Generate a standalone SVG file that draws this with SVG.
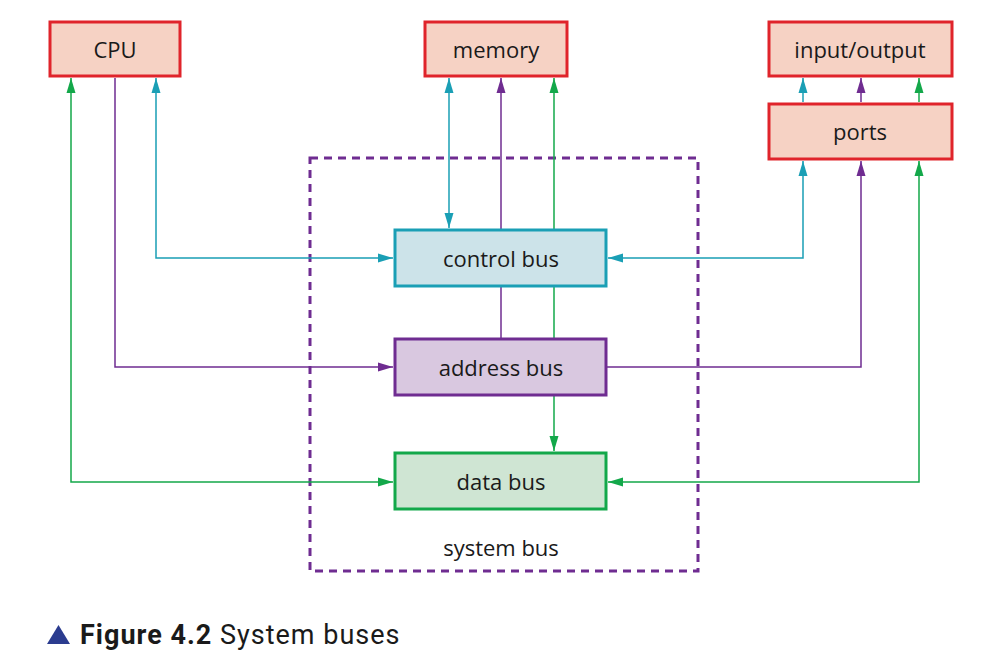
<svg xmlns="http://www.w3.org/2000/svg" width="1007" height="668" viewBox="0 0 1007 668">
<style>
.lbl{font-family:"Open Sans","Liberation Sans",sans-serif;font-size:22px;fill:#1a1a1a;text-anchor:middle;dominant-baseline:central}
.red{fill:#f6d2c4;stroke:#e0242b;stroke-width:3}
.t{stroke:#1a9fb5;stroke-width:1.5;fill:none}
.p{stroke:#6f2c91;stroke-width:1.5;fill:none}
.g{stroke:#13a84a;stroke-width:1.5;fill:none}
</style>
<defs>
<marker id="at" markerUnits="userSpaceOnUse" markerWidth="16" markerHeight="12" refX="15" refY="6" orient="auto-start-reverse" viewBox="0 0 16 12"><path d="M0,1.5 L15,6 L0,10.5 Z" fill="#1a9fb5"/></marker>
<marker id="ap" markerUnits="userSpaceOnUse" markerWidth="16" markerHeight="12" refX="15" refY="6" orient="auto-start-reverse" viewBox="0 0 16 12"><path d="M0,1.5 L15,6 L0,10.5 Z" fill="#6f2c91"/></marker>
<marker id="ag" markerUnits="userSpaceOnUse" markerWidth="16" markerHeight="12" refX="15" refY="6" orient="auto-start-reverse" viewBox="0 0 16 12"><path d="M0,1.5 L15,6 L0,10.5 Z" fill="#13a84a"/></marker>
</defs>
<rect width="1007" height="668" fill="#fff"/>
<g id="systembus">
<rect x="310" y="158" width="388" height="413" fill="none" stroke="#6f2c91" stroke-width="3" stroke-dasharray="8,6"/>
<text class="lbl" x="501" y="547">system bus</text>
</g>
<g id="connectors">
<path class="g" d="M393,482 H71 V78" marker-start="url(#ag)" marker-end="url(#ag)"/>
<path class="p" d="M393,367 H115 V78" marker-start="url(#ap)"/>
<path class="t" d="M393,258 H156 V78" marker-start="url(#at)" marker-end="url(#at)"/>
<path class="t" d="M449,228 V78" marker-start="url(#at)" marker-end="url(#at)"/>
<path class="p" d="M501,338 V78" marker-end="url(#ap)"/>
<path class="g" d="M554,451 V78" marker-start="url(#ag)" marker-end="url(#ag)"/>
<path class="t" d="M608,258 H803 V161" marker-start="url(#at)" marker-end="url(#at)"/>
<path class="p" d="M607,367 H861 V161" marker-end="url(#ap)"/>
<path class="g" d="M608,482 H919 V161" marker-start="url(#ag)" marker-end="url(#ag)"/>
<path class="t" d="M803,102 V78" marker-end="url(#at)"/>
<path class="p" d="M861,102 V78" marker-end="url(#ap)"/>
<path class="g" d="M919,102 V78" marker-end="url(#ag)"/>
</g>
<g id="cpu"><rect class="red" x="50" y="22" width="130" height="54"/><text class="lbl" x="115" y="49">CPU</text></g>
<g id="memory"><rect class="red" x="425" y="22" width="142" height="54"/><text class="lbl" x="496" y="49">memory</text></g>
<g id="io"><rect class="red" x="769" y="22" width="183" height="54"/><text class="lbl" x="860" y="49">input/output</text></g>
<g id="ports"><rect class="red" x="769" y="104" width="183" height="55"/><text class="lbl" x="860" y="131">ports</text></g>
<g id="control"><rect x="395" y="230" width="211" height="56" fill="#cce3e9" stroke="#1a9fb5" stroke-width="3"/><text class="lbl" x="501" y="258">control bus</text></g>
<g id="address"><rect x="395" y="339" width="211" height="56" fill="#d9c8e0" stroke="#6f2c91" stroke-width="3"/><text class="lbl" x="501" y="367">address bus</text></g>
<g id="data"><rect x="395" y="453" width="211" height="56" fill="#cfe5d3" stroke="#13a84a" stroke-width="3"/><text class="lbl" x="501" y="481">data bus</text></g>
<g id="caption">
<path d="M47,644 L58.5,625 L70,644 Z" fill="#2b3c8f"/>
<text x="80" y="644" font-family="Roboto,'Liberation Sans',sans-serif" font-size="27" letter-spacing="1" fill="#1a1a1a"><tspan font-weight="bold">Figure 4.2</tspan> System buses</text>
</g>
</svg>
